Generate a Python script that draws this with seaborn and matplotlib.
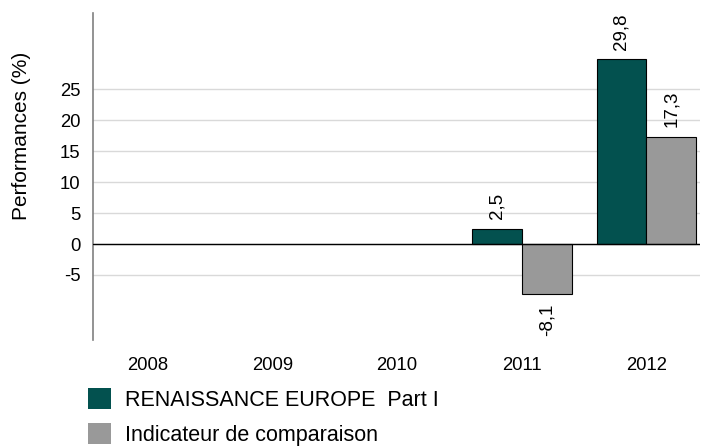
import pandas as pd
import matplotlib
matplotlib.use('Agg')
import matplotlib.pyplot as plt
import seaborn as sns

years = ['2008', '2009', '2010', '2011', '2012']
bar_years = ['2011', '2012', '2011', '2012']
series = ['RENAISSANCE EUROPE  Part I', 'RENAISSANCE EUROPE  Part I',
          'Indicateur de comparaison', 'Indicateur de comparaison']
perf = [2.5, 29.8, -8.1, 17.3]
series_names = ['RENAISSANCE EUROPE  Part I', 'Indicateur de comparaison']
colors = ['#03514f', '#999999']

data = pd.DataFrame({'Year': bar_years, 'Series': series, 'Perf': perf})

sns.set_style('white')
plt.rcParams['font.family'] = ['Liberation Sans', 'DejaVu Sans']
plt.rcParams['axes.unicode_minus'] = False
plt.rcParams['text.color'] = 'black'
plt.rcParams['xtick.color'] = 'black'
plt.rcParams['ytick.color'] = 'black'

fig = plt.figure(figsize=(7.02, 4.48), dpi=100)
ax = fig.add_axes([93 / 702, 1 - 340 / 448, 607 / 702, 327 / 448])

sns.barplot(data=data, x='Year', y='Perf', hue='Series', order=years,
            hue_order=series_names, palette=colors, width=0.8, saturation=1,
            edgecolor='black', linewidth=0.8, ax=ax, zorder=3)

# value labels, french decimal comma
for cont in ax.containers:
    labels = [f'{v:.1f}'.replace('.', ',') for v in cont.datavalues]
    ax.bar_label(cont, labels=labels, rotation=90, padding=7, fontsize=13.5,
                 color='black')

ax.set_ylim(-15.5, 37.3)
ax.set_xlim(-0.44, 4.43)
ax.set_yticks([-5, 0, 5, 10, 15, 20, 25])
ax.yaxis.grid(True, color='#d9d9d9', linewidth=1, zorder=0)
ax.axhline(0, color='black', linewidth=1, zorder=4)

for side in ['top', 'right', 'bottom']:
    ax.spines[side].set_visible(False)
ax.spines['left'].set_color('#808080')
ax.spines['left'].set_linewidth(1.2)

ax.tick_params(axis='y', length=3.5, color='#808080', labelcolor='black',
               pad=5.5, labelsize=13.3)
ax.tick_params(axis='x', length=0, pad=12, labelsize=13.3, labelcolor='black')
ax.set_xlabel('')
ax.set_ylabel('')

fig.text(22 / 702, 1 - 136 / 448, 'Performances (%)', rotation=90,
         ha='center', va='center', fontsize=15, color='black')

ax.legend(loc='upper left', bbox_to_anchor=(88 / 702, 1 - 388 / 448),
          bbox_transform=fig.transFigure, frameon=False, fontsize=15.5,
          handlelength=1.05, handleheight=1.15, handletextpad=0.65,
          labelspacing=0.55, borderaxespad=0, borderpad=0)
for t in ax.get_legend().get_texts():
    t.set_color('black')
for h in ax.get_legend().legend_handles:
    h.set_edgecolor('none')

fig.savefig('out.png', dpi=100)
